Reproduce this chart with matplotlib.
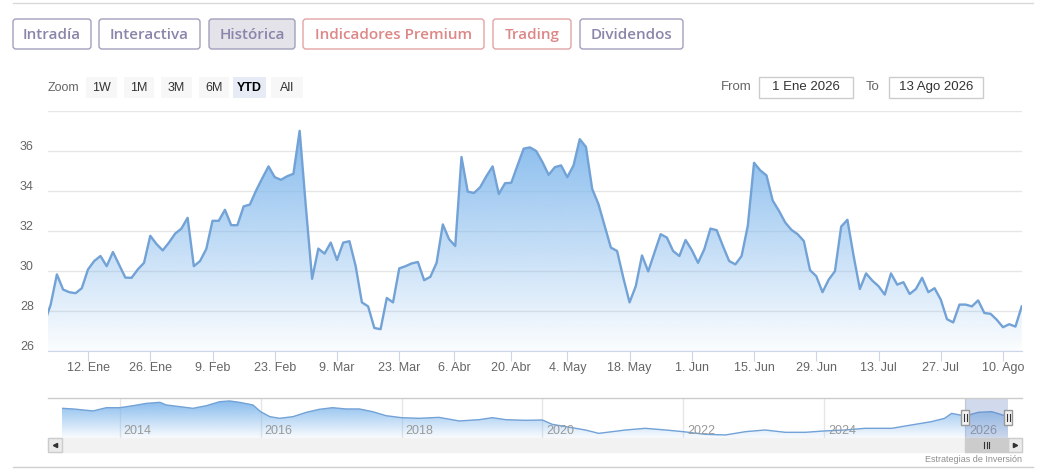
import numpy as np
import pandas as pd
import matplotlib
matplotlib.use('Agg')
import matplotlib.pyplot as plt
import matplotlib.transforms as mtransforms
from matplotlib.patches import FancyBboxPatch, Rectangle, PathPatch
from matplotlib.path import Path

plt.rcParams['font.family'] = ['Liberation Sans', 'DejaVu Sans']

# sessions of the Spanish market, first one is the last session of 2025
holidays = ['2026-01-01', '2026-04-03', '2026-04-06', '2026-05-01']
dates = pd.bdate_range('2025-12-31', '2026-08-13', freq='C', holidays=holidays)

price = [
    27.40,
    # ene
    28.32, 29.83, 29.07, 28.94, 28.89, 29.14, 30.08, 30.50, 30.75, 30.24,
    30.95, 30.31, 29.67, 29.66, 30.08, 30.41, 31.76, 31.35, 31.03, 31.42, 31.87,
    # feb
    32.12, 32.66, 30.24, 30.50, 31.10, 32.51, 32.51, 33.06, 32.29, 32.29,
    33.23, 33.32, 34.02, 34.64, 35.23, 34.69, 34.56, 34.74, 34.86, 37.01,
    # mar
    33.20, 29.61, 31.12, 30.87, 31.42, 30.55, 31.42, 31.49, 30.24, 28.43, 28.23,
    27.15, 27.09, 28.65, 28.43, 30.13, 30.24, 30.38, 30.45, 29.54, 29.71, 30.41,
    # abr
    32.33, 31.59, 31.25, 35.70, 33.97, 33.90, 34.19, 34.74, 35.23, 33.85,
    34.39, 34.41, 35.28, 36.12, 36.18, 36.00, 35.45, 34.81, 35.19, 35.28,
    # may
    34.69, 35.28, 36.59, 36.20, 34.10, 33.35, 32.26, 31.17, 31.00, 29.66,
    28.43, 29.24, 30.78, 29.98, 30.92, 31.84, 31.67, 31.00, 30.75, 31.55,
    # jun
    31.05, 30.41, 31.08, 32.12, 32.04, 31.25, 30.50, 30.33, 30.75, 32.26, 35.41,
    35.03, 34.78, 33.52, 33.01, 32.43, 32.06, 31.84, 31.50, 30.04, 29.74, 28.94,
    # jul
    29.57, 29.99, 32.22, 32.56, 30.75, 29.10, 29.88, 29.52, 29.24, 28.82, 29.88, 29.32,
    29.44, 28.85, 29.10, 29.66, 28.94, 29.14, 28.57, 27.59, 27.43, 28.32, 28.32,
    # ago
    28.23, 28.53, 27.90, 27.86, 27.56, 27.19, 27.34, 27.22, 28.23,
]
assert len(price) == len(dates)

month_es = ['Ene', 'Feb', 'Mar', 'Abr', 'May', 'Jun', 'Jul', 'Ago', 'Sep', 'Oct', 'Nov', 'Dic']
tick_dates = pd.date_range('2026-01-12', '2026-08-10', freq='14D')
y_ticks = [26, 28, 30, 32, 34, 36, 38]

# navigator: whole history
nav_years = [2013.18, 2013.34, 2013.62, 2013.81,
             2014.00, 2014.19, 2014.38, 2014.57, 2014.66, 2014.85,
             2015.04, 2015.23, 2015.42, 2015.56, 2015.70, 2015.89,
             2016.00, 2016.13, 2016.27, 2016.46, 2016.65, 2016.83,
             2017.02, 2017.21, 2017.40, 2017.59, 2017.78,
             2018.00, 2018.25, 2018.53, 2018.82,
             2019.10, 2019.29, 2019.48, 2019.76,
             2020.00, 2020.14, 2020.42, 2020.61, 2020.80, 2020.99,
             2021.18, 2021.46, 2021.75,
             2022.00, 2022.31, 2022.60, 2022.88,
             2023.16, 2023.45, 2023.73,
             2024.00, 2024.29, 2024.58, 2024.96,
             2025.24, 2025.52, 2025.71, 2025.81,
             2026.00, 2026.19, 2026.38, 2026.61]
nav_values = [39.1, 38.3, 35.8, 39.9,
              39.9, 42.4, 45.3, 46.6, 43.3, 41.2,
              39.1, 42.4, 47.4, 48.3, 46.6, 43.3,
              34.9, 28.7, 26.6, 28.7, 34.1, 37.8,
              39.9, 38.3, 38.3, 34.9, 29.9,
              27.4, 26.6, 27.8, 23.3,
              24.9, 27.4, 24.9, 24.1,
              24.5, 19.1, 14.9, 12.0, 7.8, 9.9,
              12.0, 14.1, 12.0,
              9.9, 6.6, 5.8, 9.9,
              12.0, 9.1, 9.1,
              10.8, 12.0, 14.1, 14.1,
              18.3, 22.4, 26.6, 32.8,
              29.5, 34.1, 34.9, 28.7]
nav_year_ticks = [2014, 2016, 2018, 2020, 2022, 2024, 2026]

tabs = ['Intradía', 'Interactiva', 'Histórica', 'Indicadores Premium', 'Trading', 'Dividendos']
zoom_buttons = ['1W', '1M', '3M', '6M', 'YTD', 'All']
date_from, date_to = '1 Ene 2026', '13 Ago 2026'

W, H = 1045, 474
fig = plt.figure(figsize=(W / 100, H / 100), dpi=100)


def px_axes(x0, y0, x1, y1, z):
    a = fig.add_axes([x0 / W, 1 - y1 / H, (x1 - x0) / W, (y1 - y0) / H], zorder=z)
    return a


bg = px_axes(0, 0, W, H, 0)
bg.set_xlim(0, W)
bg.set_ylim(H, 0)
bg.axis('off')

blue = (124 / 255, 181 / 255, 236 / 255)
line_c = '#72a2d6'


def gradient_area(axis, xs, ys, base, top, a0, a1):
    verts = [(xs[0], base)] + list(zip(xs, ys)) + [(xs[-1], base), (xs[0], base)]
    patch = PathPatch(Path(verts, closed=True), facecolor='none', edgecolor='none',
                      transform=axis.transData)
    axis.add_patch(patch)
    img = np.zeros((256, 1, 4))
    img[..., :3] = blue
    img[..., 3] = np.linspace(a0, a1, 256)[:, None]
    im = axis.imshow(img, extent=[xs[0], xs[-1], base, top], origin='lower',
                     aspect='auto', zorder=1, interpolation='bilinear')
    im.set_clip_path(patch)


# lines top / bottom
bg.plot([13, 1033], [3, 3], color='#d9d9d9', lw=1)

# tabs
tab_x = [(13, 91), (99, 200), (209, 295), (303, 484), (493, 571), (580, 683)]
purple, red = '#8a85aa', '#de8787'
for name, (x0, x1) in zip(tabs, tab_x):
    c = red if name in ('Indicadores Premium', 'Trading') else purple
    ec = '#e2a4a4' if c == red else '#a29fbc'
    fc = '#e3e3e9' if name == 'Histórica' else 'white'
    bg.add_patch(FancyBboxPatch((x0, 19), x1 - x0, 30, boxstyle='round,pad=0,rounding_size=3',
                                fc=fc, ec=ec, lw=1))
    bg.text((x0 + x1) / 2, 34.5, name, ha='center', va='center', fontsize=11,
            fontweight='semibold', color=c, family=['Open Sans', 'DejaVu Sans'])

# range selector
bg.text(48, 88, 'Zoom', ha='left', va='center', fontsize=9, color='#666666')
zb_x = [(86, 117), (124, 154), (161, 192), (199, 229), (233, 266), (271, 303)]
for name, (x0, x1) in zip(zoom_buttons, zb_x):
    sel = name == 'YTD'
    bg.add_patch(Rectangle((x0, 77), x1 - x0, 21, fc='#e6ebf5' if sel else '#f7f7f7', ec='none'))
    bg.text((x0 + x1) / 2, 88, name, ha='center', va='center', fontsize=9,
            color='black' if sel else '#333333', fontweight='bold' if sel else 'normal')

bg.text(752, 87, 'From', ha='right', va='center', fontsize=9.5, color='#666666')
bg.add_patch(Rectangle((759, 77), 94, 21, fc='white', ec='#cccccc', lw=1))
bg.text(806, 87, date_from, ha='center', va='center', fontsize=9.5, color='#333333')
bg.text(880, 87, 'To', ha='right', va='center', fontsize=9.5, color='#666666')
bg.add_patch(Rectangle((889, 77), 94, 21, fc='white', ec='#cccccc', lw=1))
bg.text(936, 87, date_to, ha='center', va='center', fontsize=9.5, color='#333333')

# main chart
ax = px_axes(48, 111, 1022, 351, 2)
ax.set_facecolor('none')
x = np.arange(len(dates))
gradient_area(ax, x, price, 26, 38, 0.03, 1.0)
ax.plot(x, price, color=line_c, lw=1.7, zorder=3, solid_joinstyle='round')
ax.set_xlim(0.57, 157.05)
ax.set_ylim(26, 38)
ax.set_yticks(y_ticks)
ax.yaxis.grid(True, color='#e6e6e6', lw=1)
ax.set_axisbelow(True)
ax.tick_params(axis='y', length=0, labelleft=False)
for s in ['top', 'left', 'right']:
    ax.spines[s].set_visible(False)
ax.spines['bottom'].set_color('#ccd6eb')

tick_pos = np.interp(tick_dates.asi8, dates.asi8, x)
tick_lab = [f'{d.day}. {month_es[d.month - 1]}' for d in tick_dates]
ax.set_xticks(tick_pos, tick_lab)
ax.tick_params(axis='x', length=7, color='#ccd6eb', labelcolor='#666666', labelsize=9, pad=1)

ytrans = mtransforms.offset_copy(mtransforms.blended_transform_factory(bg.transData, ax.transData),
                                 fig=fig, y=4, units='dots')
for v in y_ticks[:-1]:
    bg.text(20, v, str(v), transform=ytrans, ha='left', va='center', fontsize=9, color='#666666')

# navigator
nav = px_axes(62, 398, 1008, 438, 2)
nav.set_facecolor('none')
gradient_area(nav, nav_years, nav_values, 2, 52, 0.05, 1.0)
nav.plot(nav_years, nav_values, color=line_c, lw=1, zorder=3)
nav.set_xlim(nav_years[0], nav_years[-1])
nav.set_ylim(2, 52)
nav.axis('off')
ltrans = mtransforms.offset_copy(nav.get_xaxis_transform(), fig=fig, x=4, units='dots')
for yr in nav_year_ticks:
    nav.axvline(yr, color='#e6e6e6', lw=1, zorder=0)
    nav.text(yr, 0.18, str(yr), transform=ltrans, ha='left', va='center', fontsize=9, color='#999999')
nav.axvspan(2026.0, nav_years[-1], color=(102 / 255, 133 / 255, 194 / 255, 0.3), lw=0, zorder=4)

fg = px_axes(0, 0, W, H, 5)
fg.set_facecolor('none')
fg.set_xlim(0, W)
fg.set_ylim(H, 0)
fg.axis('off')

fg.plot([48, 1022], [398, 398], color='#cccccc', lw=1)


def nav_px(yr):
    return 62 + (yr - nav_years[0]) / (nav_years[-1] - nav_years[0]) * (1008 - 62)


for hx in [nav_px(2026.0), nav_px(nav_years[-1])]:
    fg.add_patch(Rectangle((hx - 4, 410), 8, 15, fc='#f2f2f2', ec='#999999', lw=1))
    fg.plot([hx - 1.5, hx - 1.5], [414, 421], color='#333333', lw=0.8)
    fg.plot([hx + 1.5, hx + 1.5], [414, 421], color='#333333', lw=0.8)

# scrollbar
fg.add_patch(Rectangle((48, 438), 974, 14, fc='#f2f2f2', ec='#f2f2f2', lw=1))
fg.add_patch(Rectangle((48, 438), 14, 14, fc='#ebebeb', ec='#cccccc', lw=1))
fg.add_patch(Rectangle((1008, 438), 14, 14, fc='#ebebeb', ec='#cccccc', lw=1))
fg.plot([55], [445], marker='<', ms=3, color='#333333')
fg.plot([1015], [445], marker='>', ms=3, color='#333333')
t0, t1 = nav_px(2026.0), nav_px(nav_years[-1])
fg.add_patch(Rectangle((t0, 438), t1 - t0, 14, fc='#cccccc', ec='#cccccc', lw=1))
cx = (t0 + t1) / 2
for dx in (-2.5, 0, 2.5):
    fg.plot([cx + dx, cx + dx], [442, 448], color='#333333', lw=0.8)

fg.text(1022, 459, 'Estrategias de Inversión', ha='right', va='center', fontsize=6.5, color='#8f8f8f')
fg.plot([13, 1033], [467, 467], color='#d0d0d0', lw=1)

fig.savefig('out.png', dpi=100)
